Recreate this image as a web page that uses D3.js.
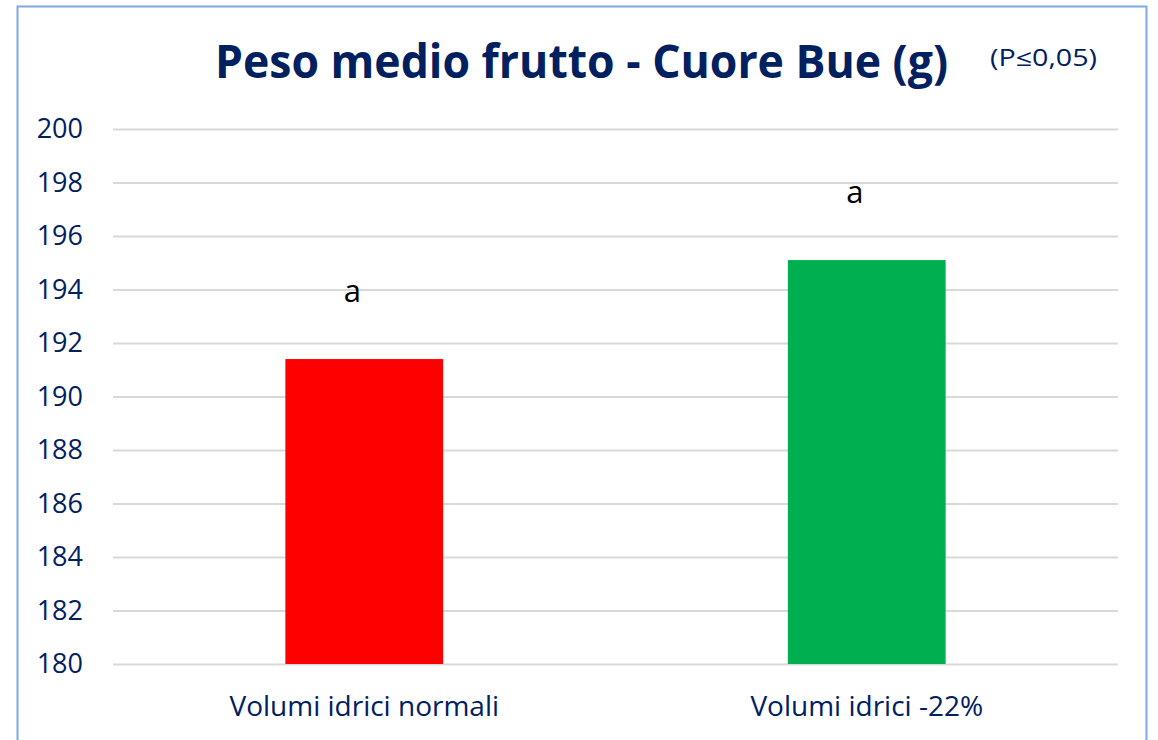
<!DOCTYPE html>
<html>
<head>
<meta charset="utf-8">
<script src="https://cdn.jsdelivr.net/npm/d3@7"></script>
<style>
  html, body { margin: 0; padding: 0; background: #fff; }
  svg { display: block; }
</style>
</head>
<body>
<div id="chart"></div>
<script>
// data
const categories = ["Volumi idrici normali", "Volumi idrici -22%"];
const values = [191.4, 195.1];
const letters = ["a", "a"];
const barColors = ["#FF0000", "#00B050"];
const yTicks = [180, 182, 184, 186, 188, 190, 192, 194, 196, 198, 200];

const W = 1158, H = 740;
const margin = { top: 129, right: 40, bottom: 76, left: 113 };
const plotW = W - margin.left - margin.right;
const plotH = H - margin.top - margin.bottom;
const navy = "#002060";
const font = "'Open Sans', 'Noto Sans', sans-serif";

const svg = d3.select("#chart").append("svg")
    .attr("width", W)
    .attr("height", H);

// outer frame
svg.append("rect")
    .attr("x", 17.5).attr("y", 6.5)
    .attr("width", 1129).attr("height", 760)
    .attr("fill", "none")
    .attr("stroke", "#7aaae0")
    .attr("stroke-width", 2);

const g = svg.append("g")
    .attr("transform", `translate(${margin.left},${margin.top})`);

const x = d3.scaleBand()
    .domain(categories)
    .range([0, plotW])
    .paddingInner(0.686)
    .paddingOuter(0.343);

const y = d3.scaleLinear()
    .domain([180, 200])
    .range([plotH, 0]);

// y axis + gridlines
const yAxis = g.append("g")
    .call(d3.axisLeft(y).tickValues(yTicks).tickSizeInner(-plotW).tickSizeOuter(0).tickPadding(30));
yAxis.select(".domain").remove();
yAxis.selectAll(".tick line")
    .attr("stroke", "#d9d9d9")
    .attr("stroke-width", 2);
yAxis.selectAll(".tick text")
    .attr("fill", navy)
    .style("font-family", font)
    .style("font-size", "27px");

// bars
g.selectAll(".bar")
    .data(values)
    .enter()
    .append("rect")
    .attr("class", "bar")
    .attr("x", (d, i) => x(categories[i]))
    .attr("y", d => y(d))
    .attr("width", x.bandwidth())
    .attr("height", d => y(180) - y(d))
    .attr("fill", (d, i) => barColors[i]);

// significance letters (sit a bit left of the bar centre in the original)
g.selectAll(".letter")
    .data(values)
    .enter()
    .append("text")
    .attr("class", "letter")
    .attr("x", (d, i) => x(categories[i]) + x.bandwidth() / 2 - 12)
    .attr("y", d => y(d) - 57)
    .attr("text-anchor", "middle")
    .attr("fill", "#000")
    .style("font-family", font)
    .style("font-size", "31px")
    .text((d, i) => letters[i]);

// x axis labels
const xAxis = g.append("g")
    .attr("transform", `translate(0,${plotH})`)
    .call(d3.axisBottom(x).tickSize(0));
xAxis.select(".domain").remove();
xAxis.selectAll(".tick text")
    .attr("y", 52)
    .attr("dy", 0)
    .attr("fill", navy)
    .style("font-family", font)
    .style("font-size", "28px");

// title
svg.append("text")
    .attr("x", 215)
    .attr("y", 78)
    .attr("fill", navy)
    .attr("textLength", 733)
    .attr("lengthAdjust", "spacingAndGlyphs")
    .style("font-family", font)
    .style("font-weight", "bold")
    .style("font-size", "46px")
    .text("Peso medio frutto - Cuore Bue (g)");

svg.append("text")
    .attr("x", 990)
    .attr("y", 66)
    .attr("fill", navy)
    .attr("textLength", 107)
    .attr("lengthAdjust", "spacingAndGlyphs")
    .style("font-family", font)
    .style("font-size", "23px")
    .text("(P\u22640,05)");
</script>
</body>
</html>
